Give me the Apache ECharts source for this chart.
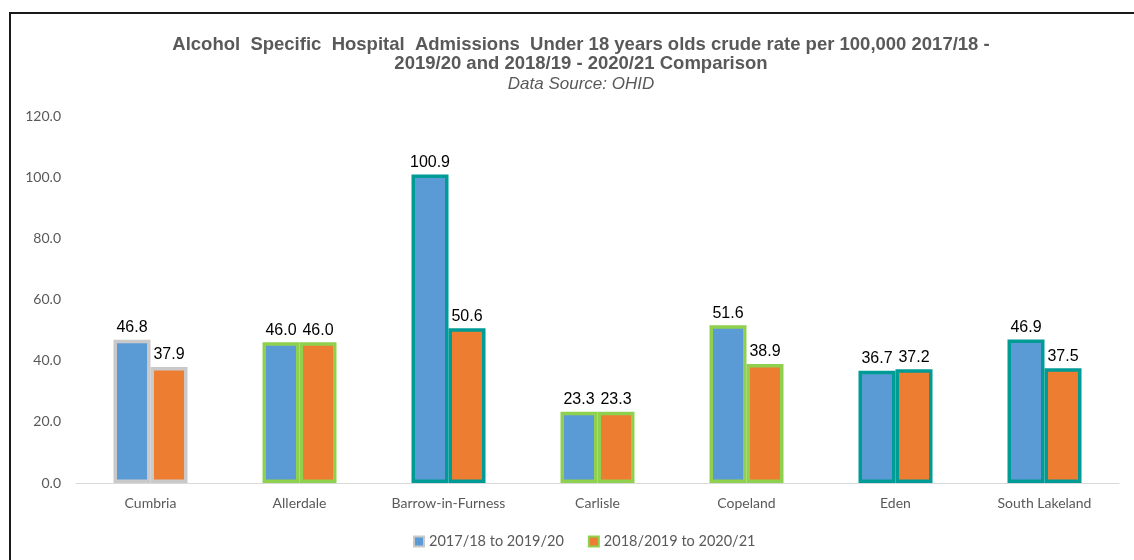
<!DOCTYPE html>
<html>
<head>
<meta charset="utf-8">
<script src="https://cdn.jsdelivr.net/npm/echarts@6/dist/echarts.min.js"></script>
<style>html,body{margin:0;padding:0;background:#fff}#c{width:1134px;height:560px}</style>
</head>
<body>
<div id="c"></div>
<script>
var categories = ['Cumbria', 'Allerdale', 'Barrow-in-Furness', 'Carlisle', 'Copeland', 'Eden', 'South Lakeland'];
var series1Name = '2017/18 to 2019/20';
var series2Name = '2018/2019 to 2020/21';
var series1Values = [46.8, 46.0, 100.9, 23.3, 51.6, 36.7, 46.9];
var series2Values = [37.9, 46.0, 50.6, 23.3, 38.9, 37.2, 37.5];
var borderColors = ['#C9C9C9', '#8FD14F', '#009B95', '#8FD14F', '#8FD14F', '#009B95', '#009B95'];
var yTicks = [0, 20, 40, 60, 80, 100, 120];

var chart = echarts.init(document.getElementById('c'), null, {renderer: 'canvas'});

function mk(vals, name, fill, defBorder) {
  return {
    name: name,
    type: 'bar',
    barWidth: 37,
    barGap: '0%',
    data: vals.map(function (v, i) {
      return {value: v, itemStyle: {borderColor: borderColors[i]}};
    }),
    itemStyle: {color: fill, borderColor: defBorder, borderWidth: 3.5, borderRadius: 0},
    label: {
      show: true, position: 'top', distance: 4,
      color: '#000', fontSize: 16, fontFamily: 'Liberation Sans, Arial, sans-serif',
      formatter: function (p) { return p.value.toFixed(1); }
    }
  };
}

chart.setOption({
  animation: false,
  title: {
    text: 'Alcohol  Specific  Hospital  Admissions  Under 18 years olds crude rate per 100,000 2017/18 -\n2019/20 and 2018/19 - 2020/21 Comparison',
    subtext: 'Data Source: OHID',
    left: 576, top: 30, textAlign: 'center', itemGap: 3,
    textStyle: {fontFamily: 'Liberation Sans Narrow, Arial Narrow, Liberation Sans, sans-serif', fontWeight: 'bold', fontSize: 18.5, color: '#595959', lineHeight: 19},
    subtextStyle: {fontFamily: 'Liberation Sans Narrow, Arial Narrow, Liberation Sans, sans-serif', fontStyle: 'italic', fontSize: 17, color: '#595959'}
  },
  legend: {
    bottom: 6, left: 408, itemWidth: 10, itemHeight: 10, itemGap: 24,
    icon: 'rect',
    textStyle: {color: '#595959', fontSize: 14.5, fontFamily: 'Lato, Open Sans, sans-serif'},
    data: [series1Name, series2Name]
  },
  grid: {left: 76, right: 15, top: 116, bottom: 77, containLabel: false},
  xAxis: {
    type: 'category', data: categories,
    axisLine: {lineStyle: {color: '#D9D9D9', width: 1}},
    axisTick: {show: false},
    axisLabel: {color: '#595959', fontSize: 14, fontFamily: 'Lato, Open Sans, sans-serif', margin: 13}
  },
  yAxis: {
    type: 'value', min: yTicks[0], max: yTicks[yTicks.length - 1], interval: 20,
    axisLine: {show: false}, axisTick: {show: false},
    splitLine: {show: false},
    axisLabel: {color: '#595959', fontSize: 14, fontFamily: 'Lato, Open Sans, sans-serif', margin: 15,
      formatter: function (v) { return v.toFixed(1); }}
  },
  graphic: [
    {type: 'line', shape: {x1: 10, y1: 13, x2: 10, y2: 560}, style: {stroke: '#1a1a1a', lineWidth: 2}},
    {type: 'line', shape: {x1: 9, y1: 13, x2: 1134, y2: 13}, style: {stroke: '#1a1a1a', lineWidth: 2}}
  ],
  series: [
    mk(series1Values, series1Name, '#5B9BD5', '#C9C9C9'),
    mk(series2Values, series2Name, '#ED7D31', '#8FD14F')
  ]
});
</script>
</body>
</html>
